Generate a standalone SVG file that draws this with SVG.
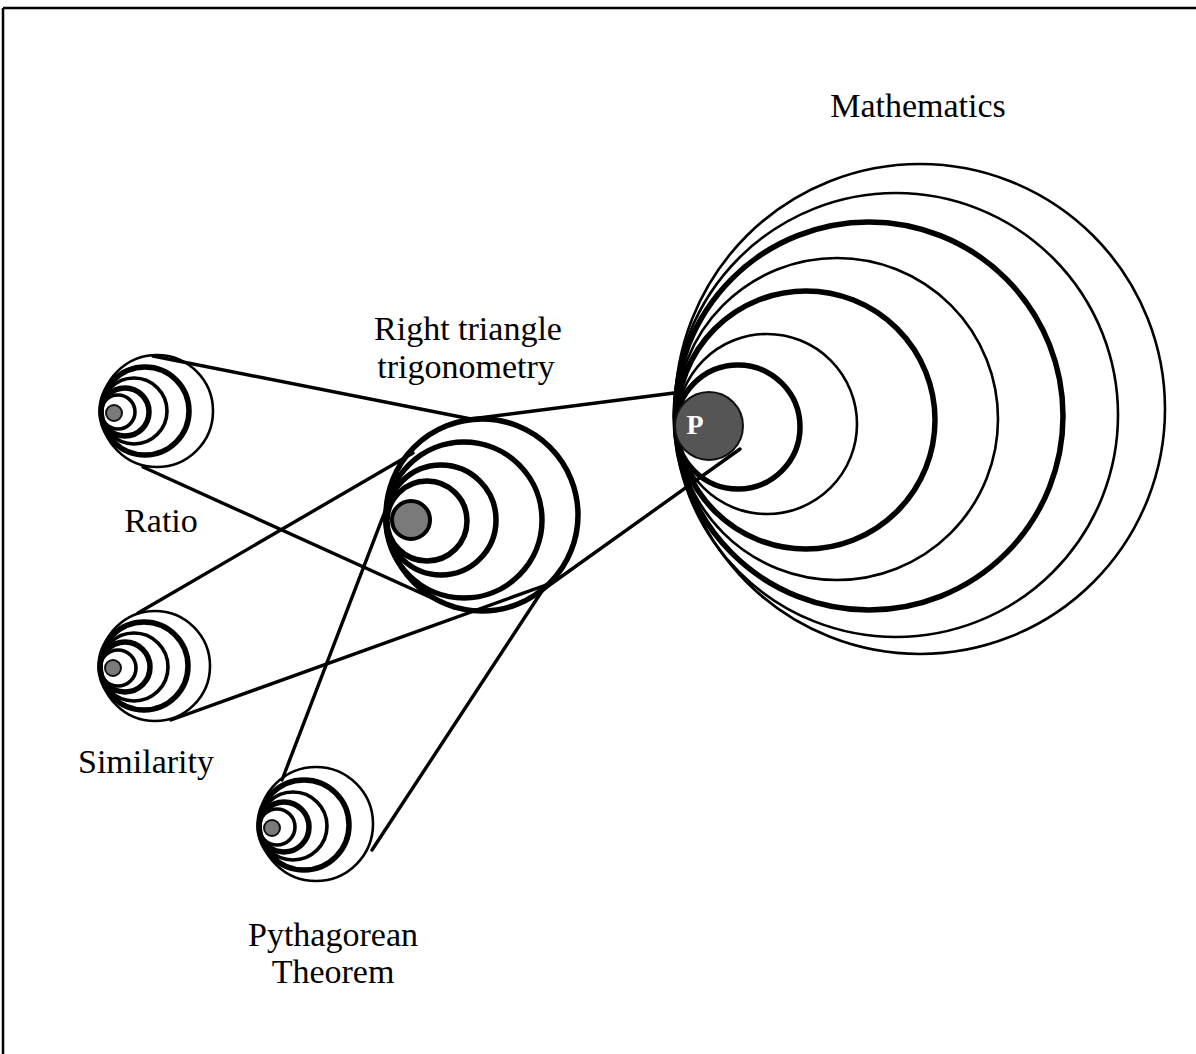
<svg xmlns="http://www.w3.org/2000/svg" width="1196" height="1054" viewBox="0 0 1196 1054">
<style>
.ring{fill:none;stroke:#000}
.t1{stroke-width:2.6}
.t2{stroke-width:3.6}
.t3{stroke-width:5.5}
.dot{fill:#7a7a7a;stroke:#111;stroke-width:2}
.lbl{font-family:"Liberation Serif","Times New Roman",serif;font-size:34px;fill:#000;text-anchor:middle}
.conn line{stroke:#000;stroke-width:3.4;stroke-linecap:round}
</style>
<rect x="0" y="0" width="1196" height="1054" fill="#fff"/>
<g id="frame" stroke="#000" stroke-width="2.5" fill="none">
<line x1="3" y1="8" x2="1196" y2="8"/>
<line x1="3" y1="8" x2="3" y2="1054"/>
</g>
<g id="connectors" class="conn">
<line x1="153" y1="356" x2="471" y2="419"/>
<line x1="143" y1="467" x2="454" y2="608"/>
<line x1="138" y1="613" x2="413" y2="453"/>
<line x1="171" y1="720" x2="546" y2="585"/>
<line x1="282" y1="780" x2="397" y2="480"/>
<line x1="372" y1="850" x2="546" y2="585"/>
<line x1="471" y1="419" x2="674" y2="393"/>
<line x1="537" y1="594" x2="740" y2="449"/>
</g>
<g id="mathematics">
<circle class="ring t1" cx="920" cy="409" r="245"/>
<circle class="ring t1" cx="896" cy="415" r="222"/>
<circle class="ring t3" cx="869" cy="416" r="194"/>
<circle class="ring t1" cx="837" cy="419" r="161"/>
<circle class="ring t3" cx="806" cy="420" r="129"/>
<circle class="ring t1" cx="767" cy="424" r="90"/>
<circle class="ring t3" cx="738" cy="427" r="62"/>
<circle cx="709" cy="426" r="34" fill="#555" stroke="#111" stroke-width="2"/>
<text x="695" y="434" font-family="Liberation Serif,serif" font-weight="bold" font-size="28" fill="#fff" text-anchor="middle">P</text>
<text class="lbl" x="918" y="117">Mathematics</text>
</g>
<g id="right-triangle">
<circle class="ring t3" cx="482" cy="515" r="96"/>
<circle class="ring t3" cx="464" cy="520" r="78"/>
<circle class="ring t3" cx="441" cy="520" r="55"/>
<circle class="ring t3" cx="427" cy="521" r="40"/>
<circle cx="411" cy="520" r="19" fill="#7a7a7a" stroke="#000" stroke-width="4"/>
<text class="lbl" x="468" y="340">Right triangle</text>
<text class="lbl" x="466" y="378">trigonometry</text>
</g>
<g id="ratio">
<circle class="ring t1" cx="157" cy="411" r="56"/>
<circle class="ring t3" cx="145" cy="411" r="44"/>
<circle class="ring t2" cx="134" cy="411" r="33"/>
<circle class="ring t3" cx="125" cy="412" r="24"/>
<circle class="ring t2" cx="118" cy="412" r="17"/>
<circle class="dot" cx="114" cy="413" r="8"/>
<text class="lbl" x="161" y="532">Ratio</text>
</g>
<g id="similarity">
<circle class="ring t1" cx="155" cy="666" r="55"/>
<circle class="ring t3" cx="144" cy="666" r="44"/>
<circle class="ring t2" cx="134" cy="667" r="34"/>
<circle class="ring t3" cx="125" cy="667" r="25"/>
<circle class="ring t2" cx="118" cy="668" r="18"/>
<circle class="dot" cx="113" cy="668" r="8"/>
<text class="lbl" x="146" y="773">Similarity</text>
</g>
<g id="pythagorean">
<circle class="ring t1" cx="316" cy="824" r="57"/>
<circle class="ring t3" cx="304" cy="825" r="45"/>
<circle class="ring t2" cx="293" cy="826" r="34"/>
<circle class="ring t3" cx="284" cy="827" r="25"/>
<circle class="ring t2" cx="277" cy="827" r="18"/>
<circle class="dot" cx="272" cy="828" r="8"/>
<text class="lbl" x="333" y="946">Pythagorean</text>
<text class="lbl" x="333" y="983">Theorem</text>
</g>
</svg>
